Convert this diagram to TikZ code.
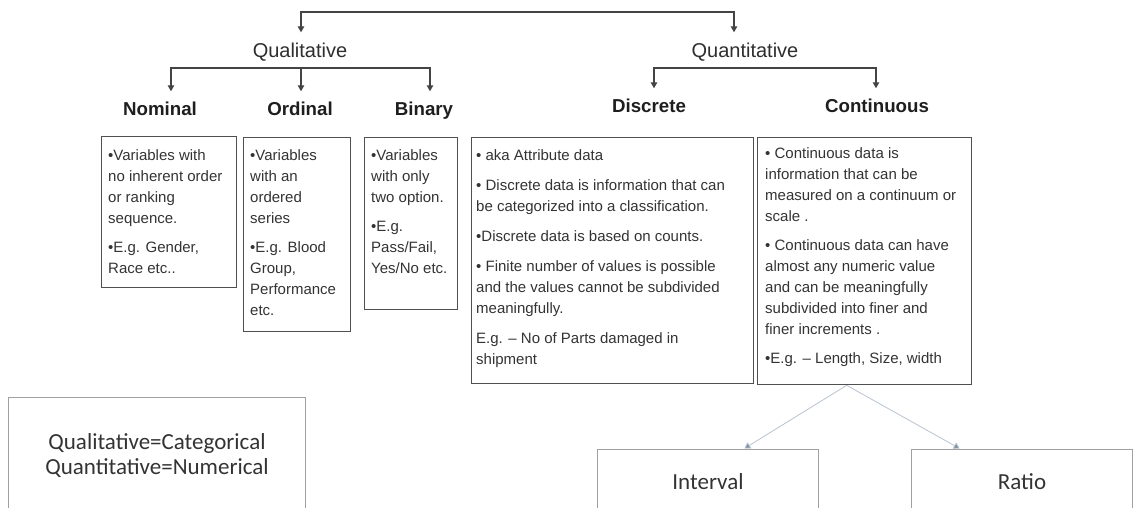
\documentclass[tikz,border=0pt]{standalone}
\usepackage{fontspec}
\setmainfont{Liberation Sans}
\newfontfamily\calfont{Carlito}
\usetikzlibrary{arrows.meta,calc}
\definecolor{linegray}{HTML}{444444}
\definecolor{boxgray}{HTML}{505050}
\definecolor{textgray}{HTML}{333333}
\definecolor{headgray}{HTML}{2E2E2E}
\definecolor{subgray}{HTML}{1E1E1E}
\definecolor{lightbox}{HTML}{A0A0A0}
\definecolor{lightline}{HTML}{B8C3CE}
\definecolor{lighttip}{HTML}{7A90A6}
\begin{document}
\begin{tikzpicture}[x=1pt,y=-1pt,
  conn/.style={draw=linegray, line width=1.1pt, -{Triangle[width=6.5pt,length=6pt]}},
  head/.style={font=\fontsize{20}{24}\selectfont, text=headgray, inner xsep=0pt, inner ysep=10pt, anchor=base},
  subhead/.style={font=\bfseries\fontsize{18.7}{22}\selectfont, text=subgray, inner xsep=0pt, inner ysep=10pt, anchor=base},
  boxshape/.style={draw=boxgray, line width=1.3pt, rectangle, inner sep=0pt, anchor=north west},
  btext/.style={align=left, inner sep=0pt, anchor=north west, font=\fontsize{15}{21}\selectfont, text=textgray},
  softbox/.style={draw=lightbox, line width=1pt, rectangle, inner sep=0pt, anchor=north west, font=\calfont\fontsize{23}{25}\selectfont, text=textgray, align=center},
  softconn/.style={draw=lightline, line width=0.8pt, -{Triangle[width=7pt,length=6pt,fill=lighttip]}, shorten >=1pt}
]
\useasboundingbox (0,0) rectangle (1134,507);
\clip (0,0) rectangle (1134,507);

% headings
\node[head] (qual) at (300,57) {Qualitative};
\node[head] (quant) at (745,57) {Quantitative};
\node[subhead] (nominal) at (160,115) {Nominal};
\node[subhead] (ordinal) at (300,115) {Ordinal};
\node[subhead] (binary) at (424,115) {Binary};
\node[subhead] (discrete) at (649,112) {Discrete};
\node[subhead] (continuous) at (877,112) {Continuous};

% connectors
\coordinate (topc) at (518,12);
\draw[conn] (topc) -| ([xshift=1pt]qual.north);
\draw[conn] (topc) -| ([xshift=-11pt]quant.north);
\coordinate (qbr) at (301,68);
\draw[conn] (qbr) -| ([xshift=11pt]nominal.north);
\draw[conn] (qbr) -| ([xshift=6pt]binary.north);
\draw[conn] (qbr) -- ([xshift=1pt]ordinal.north);
\coordinate (nbr) at (765,68);
\draw[conn] (nbr) -| ([xshift=5pt]discrete.north);
\draw[conn] (nbr) -| ([xshift=-1pt]continuous.north);

% boxes
\node[boxshape, minimum width=135pt, minimum height=151pt] (nombox) at (101,136) {};
\node[boxshape, minimum width=107pt, minimum height=194pt] (ordbox) at (243,137) {};
\node[boxshape, minimum width=93pt, minimum height=172pt] (binbox) at (364,137) {};
\node[boxshape, minimum width=282pt, minimum height=246pt] (disbox) at (471,137) {};
\node[boxshape, minimum width=214pt, minimum height=247pt] (conbox) at (757,137) {};

\node[btext] (nomtext) at (108,149.5) {•Variables with\\no inherent order\\or ranking\\sequence.\\[8pt]•E.g. Gender,\\Race etc..};
\node[btext] (ordtext) at (250,149.5) {•Variables\\with an\\ordered\\series\\[8pt]•E.g. Blood\\Group,\\Performance\\etc.};
\node[btext] (bintext) at (371,149.5) {•Variables\\with only\\two option.\\[8pt]•E.g.\\Pass/Fail,\\Yes/No etc.};
\node[btext] (distext) at (476,149.5) {• aka Attribute data\\[9pt]• Discrete data is information that can\\be categorized into a classification.\\[9pt]•Discrete data is based on counts.\\[9pt]• Finite number of values is possible\\and the values cannot be subdivided\\meaningfully.\\[9pt]E.g. – No of Parts damaged in\\shipment};
\node[btext] (context) at (765,147.5) {• Continuous data is\\information that can be\\measured on a continuum or\\scale .\\[8pt]• Continuous data can have\\almost any numeric value\\and can be meaningfully\\subdivided into finer and\\finer increments .\\[8pt]•E.g. – Length, Size, width};

% legend
\node[softbox, minimum width=297pt, minimum height=116pt] (legend) at (8,397) {Qualitative=Categorical\\Quantitative=Numerical};

% interval / ratio
\node[softbox, minimum width=221pt, minimum height=64pt] (interval) at (597,449) {Interval};
\node[softbox, minimum width=221pt, minimum height=64pt] (ratio) at (911,449) {Ratio};

\coordinate (split) at ($(conbox.south)+(-18pt,0)$);
\draw[softconn] (split) -- ([xshift=35.5pt]interval.north);
\draw[softconn] (split) -- ([xshift=-61.5pt]ratio.north);
\end{tikzpicture}
\end{document}
